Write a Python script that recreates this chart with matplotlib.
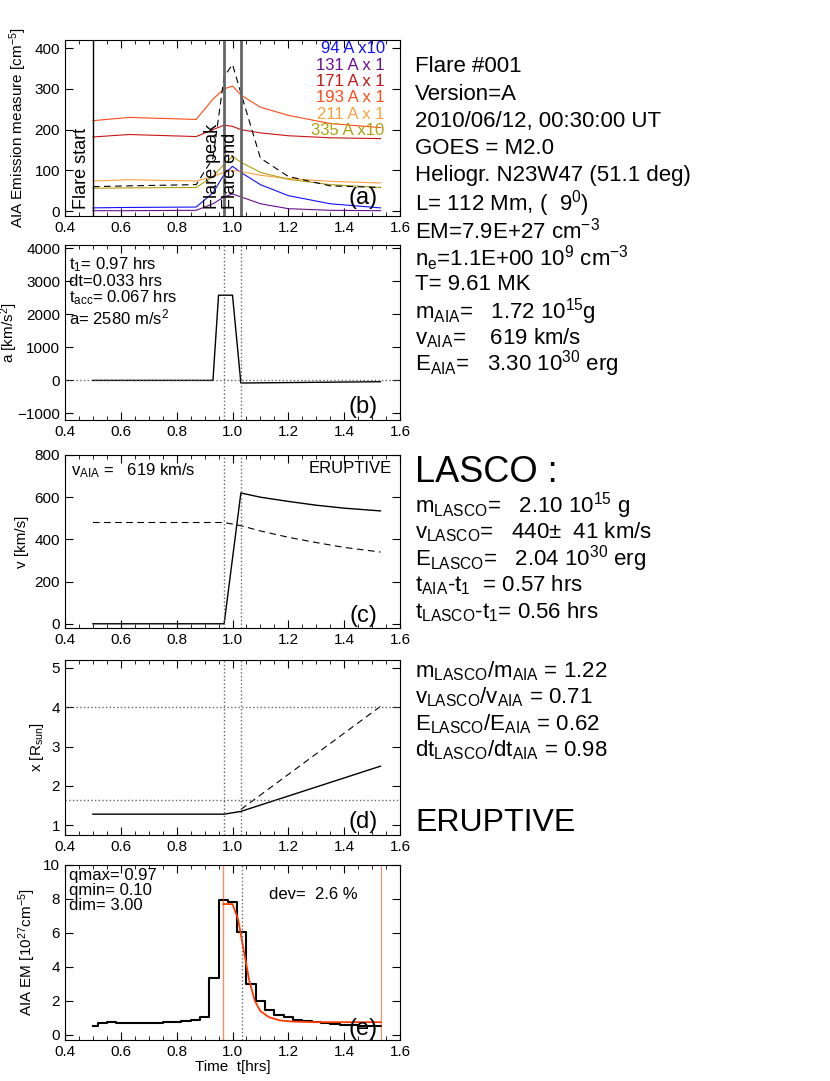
import numpy as np
import matplotlib.pyplot as plt
from matplotlib.ticker import MultipleLocator

plt.rcParams['font.family'] = ['Liberation Sans', 'DejaVu Sans']
plt.rcParams['mathtext.fontset'] = 'custom'
plt.rcParams['mathtext.rm'] = 'Liberation Sans'
plt.rcParams['mathtext.it'] = 'Liberation Sans'

# panel (a) emission measures per wavelength
t_a = [0.50, 0.63, 0.87, 0.93, 0.97, 1.00, 1.03, 1.10, 1.20, 1.35, 1.53]
em_193 = [222, 230, 225, 275, 300, 307, 285, 255, 235, 215, 205]
em_171 = [182, 188, 183, 200, 211, 208, 200, 192, 185, 180, 178]
em_211 = [74, 77, 74, 85, 95, 100, 97, 88, 80, 73, 69]
em_335 = [56, 57, 58, 85, 115, 134, 120, 95, 78, 65, 58]
em_94 = [8, 9, 10, 45, 90, 110, 95, 65, 38, 18, 8]
em_131 = [1, 1, 2, 18, 35, 42, 35, 18, 6, 2, 1]
em_tot = [60, 62, 65, 130, 330, 360, 290, 130, 85, 62, 58]
wl_labels = ['94 A x10', '131 A x 1', '171 A x 1', '193 A x 1', '211 A x 1', '335 A x10']
wl_colors = ['#1010ff', '#6a0d91', '#c81414', '#ff4a1a', '#ffa040', '#b0a010']

# panel (b) acceleration
t_b = [0.50, 0.93, 0.95, 1.00, 1.03, 1.53]
acc = [0, 0, 2580, 2580, -80, -40]

# panel (c) velocity
t_c = [0.50, 0.97, 1.03, 1.10, 1.20, 1.30, 1.40, 1.53]
v_sol = [0, 0, 620, 600, 580, 562, 548, 535]
t_c2 = [0.50, 0.97, 1.03, 1.10, 1.20, 1.30, 1.40, 1.53]
v_dash = [480, 480, 465, 440, 410, 385, 362, 340]

# panel (d) height
t_d = [0.50, 0.97, 1.03, 1.53]
x_sol = [1.28, 1.28, 1.35, 2.50]
t_d2 = [1.03, 1.53]
x_dash = [1.40, 4.02]

# panel (e) EM time profile (10^27 cm^-5)
t_e = [0.500, 0.533, 0.567, 0.600, 0.633, 0.667, 0.700, 0.733, 0.767, 0.800,
       0.833, 0.867, 0.900, 0.933, 0.967, 1.000, 1.033, 1.067, 1.100, 1.133,
       1.167, 1.200, 1.233, 1.267, 1.300, 1.333, 1.367, 1.400, 1.433, 1.467, 1.500, 1.533]
em_e = [0.55, 0.70, 0.75, 0.70, 0.68, 0.70, 0.70, 0.72, 0.75, 0.78,
        0.80, 0.88, 1.05, 3.35, 7.95, 7.80, 6.05, 3.00, 2.00, 1.45,
        1.20, 1.05, 0.90, 0.80, 0.75, 0.72, 0.65, 0.60, 0.58, 0.55, 0.55, 0.55]
t_fit = [0.967, 1.00, 1.02, 1.04, 1.06, 1.08, 1.10, 1.13, 1.17, 1.22, 1.30, 1.53]
em_fit = [7.70, 7.70, 6.8, 5.0, 3.2, 2.0, 1.4, 1.05, 0.85, 0.78, 0.75, 0.75]

fig = plt.figure(figsize=(8.3, 10.81), dpi=100)
W, H = 830, 1081
boxes = [(40, 216), (245, 420), (455, 628), (660, 835), (865, 1040)]
axs = []
for top, bot in boxes:
    ax = fig.add_axes([65 / W, 1 - bot / H, 335 / W, (bot - top) / H])
    ax.set_xlim(0.4, 1.6)
    ax.xaxis.set_major_locator(MultipleLocator(0.2))
    ax.xaxis.set_minor_locator(MultipleLocator(0.05))
    ax.tick_params(which='both', direction='in', top=True, right=True, labelsize=11)
    ax.tick_params(which='major', length=6)
    ax.tick_params(which='minor', length=3)
    axs.append(ax)

# (a)
ax = axs[0]
for y, c in zip([em_94, em_131, em_171, em_193, em_211, em_335], wl_colors):
    ax.plot(t_a, y, color=c, lw=0.8)
ax.plot(t_a, em_tot, 'k--', lw=0.8, dashes=(6, 4))
ax.axvline(0.5, color='k', lw=1)
ax.axvline(0.97, color='0.4', lw=2)
ax.axvline(1.03, color='0.4', lw=2)
ax.text(0.49, 5, 'Flare start', rotation=90, ha='right', va='bottom', fontsize=13)
ax.text(0.96, 5, 'Flare peak', rotation=90, ha='right', va='bottom', fontsize=13)
ax.text(1.025, 5, 'Flare end', rotation=90, ha='right', va='bottom', fontsize=13)
for i, (lab, c) in enumerate(zip(wl_labels, wl_colors)):
    ax.text(1.545, 398 - i * 40, lab, color=c, ha='right', va='center', fontsize=12)
ax.text(1.52, 5, '(a)', ha='right', va='bottom', fontsize=17)
ax.set_ylim(-12, 420)
ax.yaxis.set_major_locator(MultipleLocator(100))
ax.set_ylabel('AIA Emission measure [cm$^{-5}$]', fontsize=11)

# (b)
ax = axs[1]
ax.plot(t_b, acc, 'k', lw=1)
ax.axhline(0, color='0.4', ls=':', lw=1)
ax.axvline(0.97, color='0.4', ls=':', lw=1)
ax.axvline(1.03, color='0.4', ls=':', lw=1)
ax.set_ylim(-1200, 4100)
ax.yaxis.set_major_locator(MultipleLocator(1000))
ax.set_ylabel('a [km/s$^2$]', fontsize=11, labelpad=-2)
ax.text(0.415, 3800, 't$_1$= 0.97 hrs\ndt=0.033 hrs\nt$_{acc}$= 0.067 hrs\na= 2580 m/s$^2$',
        va='top', fontsize=12, linespacing=1.0)
ax.text(1.52, -1150, '(b)', ha='right', va='bottom', fontsize=17)

# (c)
ax = axs[2]
ax.plot(t_c, v_sol, 'k', lw=1)
ax.plot(t_c2, v_dash, 'k--', lw=0.8, dashes=(6, 4))
ax.axvline(0.97, color='0.4', ls=':', lw=1)
ax.axvline(1.03, color='0.4', ls=':', lw=1)
ax.set_ylim(-20, 800)
ax.yaxis.set_major_locator(MultipleLocator(200))
ax.set_ylabel('v [km/s]', fontsize=11)
ax.text(0.42, 770, 'v$_{AIA}$ =   619 km/s', va='top', fontsize=12)
ax.text(1.57, 770, 'ERUPTIVE', ha='right', va='top', fontsize=12)
ax.text(1.52, -15, '(c)', ha='right', va='bottom', fontsize=17)

# (d)
ax = axs[3]
ax.plot(t_d, x_sol, 'k', lw=1)
ax.plot(t_d2, x_dash, 'k--', lw=0.8, dashes=(6, 4))
ax.axhline(4.0, color='0.4', ls=':', lw=1)
ax.axhline(1.63, color='0.4', ls=':', lw=1)
ax.axvline(0.97, color='0.4', ls=':', lw=1)
ax.axvline(1.03, color='0.4', ls=':', lw=1)
ax.set_ylim(0.75, 5.2)
ax.yaxis.set_major_locator(MultipleLocator(1))
ax.set_ylabel('x [R$_{sun}$]', fontsize=11)
ax.text(1.52, 0.8, '(d)', ha='right', va='bottom', fontsize=17)

# (e)
ax = axs[4]
ax.step(t_e, em_e, where='mid', color='k', lw=1.5)
ax.plot(t_fit, em_fit, color='#ff3a00', lw=1.3)
ax.axvline(0.967, color='#ff3a00', lw=1, alpha=0.6)
ax.axvline(1.533, color='#ff3a00', lw=0.8, alpha=0.6)
ax.axvline(1.033, color='0.4', ls=':', lw=1)
ax.set_ylim(-0.3, 10)
ax.yaxis.set_major_locator(MultipleLocator(2))
ax.set_ylabel('AIA EM [10$^{27}$cm$^{-5}$]', fontsize=11)
ax.set_xlabel('Time  t[hrs]', fontsize=11, labelpad=1)
ax.text(0.415, 9.8, 'qmax= 0.97\nqmin= 0.10\ndim= 3.00', va='top', fontsize=12, linespacing=1.0)
ax.text(1.13, 8.0, 'dev=  2.6 %', fontsize=12)
ax.text(1.52, -0.3, '(e)', ha='right', va='bottom', fontsize=17)

# right-hand text
def ftxt(px, py, s, size=16):
    fig.text(px / W, 1 - py / H, s, fontsize=size, va='center')

info = ['Flare #001', 'Version=A', '2010/06/12, 00:30:00 UT', 'GOES = M2.0',
        'Heliogr. N23W47 (51.1 deg)', 'L= 112 Mm, (  9$^0$)', 'EM=7.9E+27 cm$^{-3}$',
        'n$_e$=1.1E+00 10$^9$ cm$^{-3}$', 'T= 9.61 MK',
        'm$_{AIA}$=   1.72 10$^{15}$g', 'v$_{AIA}$=    619 km/s',
        'E$_{AIA}$=   3.30 10$^{30}$ erg']
ys = [67, 95, 122, 149, 176, 204, 231, 258, 285, 312, 338, 364]
for y, s in zip(ys, info):
    ftxt(415, y, s)
ftxt(415, 473, 'LASCO :', 26)
lasco = ['m$_{LASCO}$=   2.10 10$^{15}$ g', 'v$_{LASCO}$=   440\u00b1  41 km/s',
         'E$_{LASCO}$=   2.04 10$^{30}$ erg', 't$_{AIA}$-t$_1$  = 0.57 hrs',
         't$_{LASCO}$-t$_1$= 0.56 hrs']
for i, s in enumerate(lasco):
    ftxt(415, 506 + i * 26.5, s)
ratios = ['m$_{LASCO}$/m$_{AIA}$ = 1.22', 'v$_{LASCO}$/v$_{AIA}$ = 0.71',
          'E$_{LASCO}$/E$_{AIA}$ = 0.62', 'dt$_{LASCO}$/dt$_{AIA}$ = 0.98']
for i, s in enumerate(ratios):
    ftxt(415, 671 + i * 26.5, s)
ftxt(415, 823, 'ERUPTIVE', 23)

fig.savefig('out.png', dpi=100)
